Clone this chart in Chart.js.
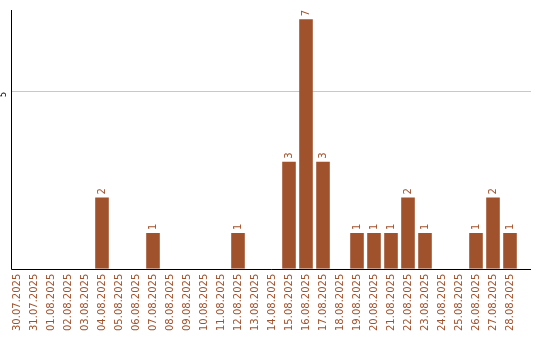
<!DOCTYPE html>
<html>
<head>
<meta charset="utf-8">
<script src="https://cdn.jsdelivr.net/npm/chart.js@4.4.0/dist/chart.umd.min.js"></script>
<style>
  html, body { margin: 0; padding: 0; background: #fff; }
</style>
</head>
<body>
<canvas id="chart" width="540" height="340"></canvas>
<script>
// Datos del gráfico
const dates = [
    '30.07.2025', '31.07.2025', '01.08.2025', '02.08.2025', '03.08.2025',
    '04.08.2025', '05.08.2025', '06.08.2025', '07.08.2025', '08.08.2025',
    '09.08.2025', '10.08.2025', '11.08.2025', '12.08.2025', '13.08.2025',
    '14.08.2025', '15.08.2025', '16.08.2025', '17.08.2025', '18.08.2025',
    '19.08.2025', '20.08.2025', '21.08.2025', '22.08.2025', '23.08.2025',
    '24.08.2025', '25.08.2025', '26.08.2025', '27.08.2025', '28.08.2025'
];
const counts = [
    0, 0, 0, 0, 0,
    2, 0, 0, 1, 0,
    0, 0, 0, 1, 0,
    0, 3, 7, 3, 0,
    1, 1, 1, 2, 1,
    0, 0, 1, 2, 1
];
const yTicks = [5];

const barColor = '#A0522D';
const labelFont = '10px "DejaVu Sans"';

// Ejes y rejilla dibujados a mano (el eje va un poco desplazado de las barras)
const axesPlugin = {
    id: 'axesPlugin',
    beforeDatasetsDraw(chart) {
        const ctx = chart.ctx;
        const y = chart.scales.y;
        const axisLeft = 11;
        const axisRight = 531;
        ctx.save();
        ctx.strokeStyle = '#c8c8c8';
        ctx.lineWidth = 1;
        yTicks.forEach(v => {
            const py = Math.round(y.getPixelForValue(v)) + 0.5;
            ctx.beginPath();
            ctx.moveTo(axisLeft, py);
            ctx.lineTo(axisRight, py);
            ctx.stroke();
            // etiqueta del eje Y girada
            ctx.save();
            ctx.translate(4, py + 3);
            ctx.rotate(-Math.PI / 2);
            ctx.fillStyle = '#000';
            ctx.font = '8px "DejaVu Sans"';
            ctx.textAlign = 'center';
            ctx.textBaseline = 'middle';
            ctx.fillText(String(v), 0, 0);
            ctx.restore();
        });
        ctx.restore();
    },
    afterDatasetsDraw(chart) {
        const ctx = chart.ctx;
        const area = chart.chartArea;
        const axisLeft = 11.5;
        const axisRight = 531;
        const bottom = Math.round(area.bottom) + 0.5;
        ctx.save();
        ctx.strokeStyle = '#000';
        ctx.lineWidth = 1;
        ctx.beginPath();
        ctx.moveTo(axisLeft, area.top);
        ctx.lineTo(axisLeft, bottom);
        ctx.lineTo(axisRight, bottom);
        ctx.stroke();

        // Valores encima de las barras
        const meta = chart.getDatasetMeta(0);
        ctx.fillStyle = barColor;
        ctx.font = labelFont;
        ctx.textAlign = 'left';
        ctx.textBaseline = 'middle';
        meta.data.forEach((bar, i) => {
            if (!counts[i]) return;
            ctx.save();
            ctx.translate(bar.x, bar.y - 3);
            ctx.rotate(-Math.PI / 2);
            ctx.fillText(String(counts[i]), 0, 0);
            ctx.restore();
        });
        ctx.restore();
    }
};

new Chart(document.getElementById('chart'), {
    type: 'bar',
    data: {
        labels: dates,
        datasets: [{
            data: counts,
            backgroundColor: barColor,
            borderWidth: 0,
            categoryPercentage: 1,
            barPercentage: 0.8
        }]
    },
    options: {
        responsive: false,
        animation: false,
        layout: {
            padding: { left: 8.5, right: 21.5, top: 10, bottom: 4 }
        },
        plugins: {
            legend: { display: false },
            tooltip: { enabled: false }
        },
        scales: {
            x: {
                grid: { display: false, drawTicks: false },
                border: { display: false },
                ticks: {
                    color: barColor,
                    font: { family: 'DejaVu Sans', size: 10 },
                    minRotation: 90,
                    maxRotation: 90,
                    autoSkip: false,
                    padding: 5
                }
            },
            y: {
                display: false,
                min: 0,
                max: 7.26
            }
        }
    },
    plugins: [axesPlugin]
});
</script>
</body>
</html>
